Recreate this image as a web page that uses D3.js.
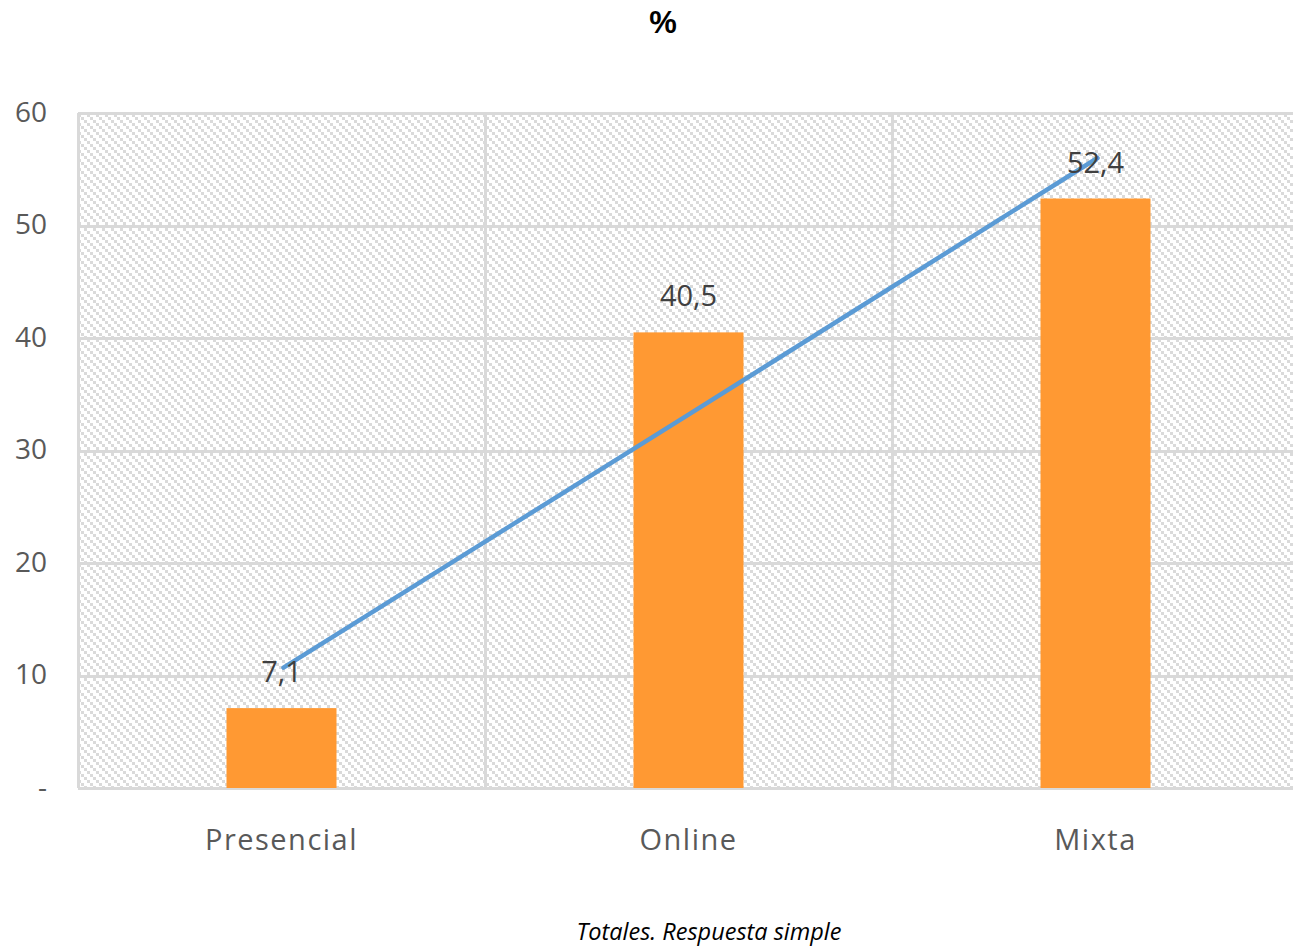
<!DOCTYPE html>
<html><head><meta charset="utf-8">
<script src="https://cdn.jsdelivr.net/npm/d3@7"></script>
<style>body{margin:0;background:#fff;} svg{display:block;}</style>
</head><body>
<script>
const categories = ["Presencial", "Online", "Mixta"];
const values = [7.1, 40.5, 52.4];
const valueLabels = ["7,1", "40,5", "52,4"];
const trendValues = [10.7, 33.3, 56.0];
const yTicks = [0, 10, 20, 30, 40, 50, 60];
const yTickLabels = ["-", "10", "20", "30", "40", "50", "60"];
const title = "%";
const footer = "Totales. Respuesta simple";

const W = 1293, H = 947;
const m = {left: 78, right: -6, top: 113, bottom: 159};
const svg = d3.select("body").append("svg").attr("width", W).attr("height", H);

const defs = svg.append("defs");
const pat = defs.append("pattern").attr("id", "hatch").attr("patternUnits", "userSpaceOnUse")
  .attr("width", 9).attr("height", 9);
[0, 3, 6].forEach(i => pat.append("rect").attr("x", i).attr("y", i).attr("width", 3).attr("height", 3).attr("fill", "#dadada"));

const x = d3.scaleBand().domain(categories).range([m.left, W - m.right]).paddingInner(0).paddingOuter(0);
const y = d3.scaleLinear().domain([0, 60]).range([H - m.bottom, m.top]);

// background
svg.append("rect").attr("x", m.left).attr("y", m.top).attr("width", W - m.right - m.left).attr("height", H - m.bottom - m.top)
  .attr("fill", "url(#hatch)");

// horizontal grid
svg.append("g").selectAll("line").data(yTicks).join("line")
  .attr("x1", m.left).attr("x2", W - m.right)
  .attr("y1", d => Math.round(y(d)) + 0.5).attr("y2", d => Math.round(y(d)) + 0.5)
  .attr("stroke", "#d9d9d9").attr("stroke-width", 3);
// vertical grid
const bounds = categories.map(c => x(c)).concat([x(categories[2]) + x.bandwidth()]);
svg.append("g").selectAll("line").data(bounds).join("line")
  .attr("x1", d => Math.round(d) + 0.5).attr("x2", d => Math.round(d) + 0.5)
  .attr("y1", m.top).attr("y2", H - m.bottom)
  .attr("stroke", "#d9d9d9").attr("stroke-width", 3);

// y axis labels
const yAxis = d3.axisLeft(y).tickValues(yTicks).tickFormat((d, i) => yTickLabels[i]).tickSize(0).tickPadding(0);
const ya = svg.append("g").attr("transform", `translate(${m.left - 31},0)`).call(yAxis);
ya.select(".domain").remove();
ya.selectAll("text").attr("font-family", "Open Sans").attr("font-size", 28).attr("fill", "#595959").attr("dy", "0.3em");

// bars
const barW = 110;
svg.append("g").selectAll("rect").data(values).join("rect")
  .attr("x", (d, i) => x(categories[i]) + x.bandwidth() / 2 - barW / 2)
  .attr("y", d => y(d)).attr("width", barW).attr("height", d => y(0) - y(d))
  .attr("fill", "#FF9933");

// trend line
const line = d3.line().x((d, i) => x(categories[i]) + x.bandwidth() / 2 + 2).y(d => y(d));
svg.append("path").datum(trendValues).attr("d", line).attr("fill", "none")
  .attr("stroke", "#5B9BD5").attr("stroke-width", 4.5).attr("stroke-linecap", "round");

// value labels
svg.append("g").selectAll("text").data(values).join("text")
  .attr("x", (d, i) => x(categories[i]) + x.bandwidth() / 2)
  .attr("y", d => y(d) - 26)
  .attr("text-anchor", "middle").attr("font-family", "Open Sans").attr("font-size", 29).attr("fill", "#404040")
  .text((d, i) => valueLabels[i]);

// x axis labels
const xAxis = d3.axisBottom(x).tickSize(0).tickPadding(0);
const xa = svg.append("g").attr("transform", `translate(0,${H - m.bottom})`).call(xAxis);
xa.select(".domain").remove();
xa.selectAll("text").attr("font-family", "Open Sans").attr("font-size", 29).attr("fill", "#595959")
  .attr("letter-spacing", "1.5px").attr("dy", 0).attr("y", 62);

// title
svg.append("text").attr("x", 663).attr("y", 33).attr("text-anchor", "middle")
  .attr("font-family", "Liberation Sans").attr("font-weight", "bold").attr("font-size", 31).attr("fill", "#000").text(title);
// footer
svg.append("text").attr("x", 709).attr("y", 940).attr("text-anchor", "middle")
  .attr("font-family", "Open Sans").attr("font-style", "italic").attr("font-size", 23.5).attr("fill", "#000").text(footer);
</script>
</body></html>
